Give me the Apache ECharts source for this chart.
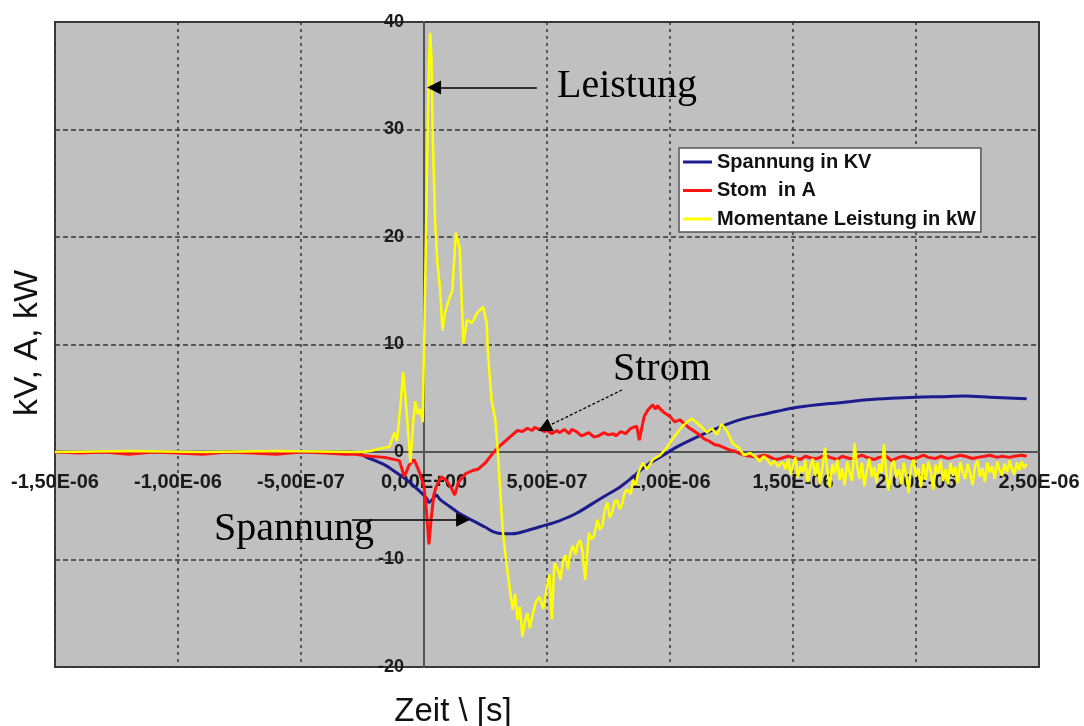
<!DOCTYPE html>
<html>
<head>
<meta charset="utf-8">
<script src="https://cdn.jsdelivr.net/npm/echarts@6/dist/echarts.min.js"></script>
<style>
html,body{margin:0;padding:0;background:#fff;}
#chart{width:1084px;height:726px;}
</style>
</head>
<body>
<div id="chart"></div>
<script>
// ---- data (time in microseconds) ----
var seriesNames = ['Spannung in KV', 'Stom  in A', 'Momentane Leistung in kW'];
var xTickLabels = ['-1,50E-06','-1,00E-06','-5,00E-07','0,00E+00','5,00E-07','1,00E-06','1,50E-06','2,00E-06','2,50E-06'];
var yTickLabels = ['-20','-10','0','10','20','30','40'];

var tSpannung = [-1.5,-0.30,-0.26,-0.24,-0.16,-0.12,-0.07,-0.02,0.01,0.02,0.035,0.05,0.065,0.10,0.15,0.20,0.25,0.28,0.32,0.36,0.42,0.48,0.55,0.62,0.72,0.80,0.85,0.88,0.92,0.98,1.03,1.10,1.20,1.30,1.40,1.50,1.60,1.70,1.80,1.90,2.00,2.10,2.20,2.30,2.40,2.45];
var spannung  = [0,0,-0.1,-0.4,-1.2,-1.8,-2.6,-3.6,-4.3,-4.7,-4.4,-4.0,-4.4,-5.0,-5.8,-6.4,-7.0,-7.4,-7.6,-7.6,-7.3,-6.9,-6.4,-5.7,-4.3,-3.2,-2.3,-1.7,-1.0,-0.2,0.5,1.3,2.3,3.1,3.6,4.1,4.4,4.6,4.85,5.0,5.1,5.15,5.2,5.1,5.0,4.95];

var tStrom = [-1.5,-1.4,-1.3,-1.2,-1.1,-1.0,-0.9,-0.8,-0.7,-0.6,-0.5,-0.4,-0.32,-0.28,-0.22,-0.16,-0.10,-0.08,-0.06,-0.04,-0.02,0.0,0.01,0.02,0.03,0.04,0.05,0.07,0.09,0.11,0.125,0.14,0.17,0.20,0.22,0.25,0.28,0.31,0.33,0.35,0.38,0.40,0.42,0.44,0.45,0.47,0.49,0.50,0.52,0.54,0.55,0.57,0.59,0.60,0.62,0.64,0.65,0.67,0.69,0.71,0.73,0.75,0.77,0.78,0.80,0.82,0.84,0.865,0.875,0.895,0.91,0.93,0.94,0.95,0.96,0.98,1.00,1.02,1.04,1.06,1.08,1.10,1.12,1.14,1.16,1.18,1.20,1.22,1.24,1.26,1.28,1.30,1.33,1.35,1.38,1.40,1.43,1.45,1.48,1.50,1.53,1.55,1.58,1.60,1.63,1.65,1.68,1.70,1.73,1.75,1.78,1.80,1.83,1.85,1.88,1.90,1.93,1.95,1.98,2.00,2.03,2.05,2.08,2.10,2.13,2.15,2.18,2.20,2.23,2.25,2.28,2.30,2.33,2.35,2.38,2.40,2.43,2.45];
var strom  = [0,-0.1,0,-0.2,0,-0.1,-0.2,0,-0.1,-0.2,0,-0.1,-0.2,-0.2,-0.4,-0.5,-0.8,-2.3,-1.2,-0.7,-1.8,-3.2,-5.5,-8.6,-6.0,-4.0,-3.2,-2.3,-2.6,-3.3,-4.0,-2.8,-2.0,-1.7,-1.6,-1.0,-0.1,0.6,1.0,1.4,2.0,1.9,2.2,2.0,2.3,2.1,1.9,2.0,1.7,2.0,1.8,2.1,1.7,2.1,1.9,1.5,1.6,1.8,1.4,1.5,1.8,1.6,1.7,1.5,1.9,1.7,2.2,2.4,1.1,3.3,3.9,4.4,4.0,4.3,4.0,3.6,3.3,2.8,3.0,2.6,2.2,1.9,1.6,1.2,1.0,0.7,0.6,0.4,0.2,0.1,-0.1,-0.3,-0.4,-0.5,-0.3,-0.4,-0.7,-0.6,-0.4,-0.5,-0.7,-0.4,-0.6,-0.6,-0.3,-0.5,-0.7,-0.4,-0.6,-0.6,-0.3,-0.5,-0.7,-0.5,-0.4,-0.8,-0.5,-0.4,-0.6,-0.6,-0.3,-0.5,-0.6,-0.4,-0.6,-0.5,-0.3,-0.4,-0.6,-0.5,-0.4,-0.3,-0.5,-0.4,-0.5,-0.4,-0.3,-0.4];

// Leistung: main transient part
var tLeistungA = [-1.5,-1.2,-0.9,-0.6,-0.25,-0.22,-0.18,-0.14,-0.12,-0.11,-0.095,-0.085,-0.075,-0.065,-0.055,-0.045,-0.035,-0.025,-0.015,-0.005,0.0,0.008,0.015,0.02,0.025,0.03,0.035,0.045,0.055,0.065,0.075,0.085,0.10,0.115,0.13,0.145,0.16,0.175,0.195,0.215,0.24,0.255,0.26,0.275,0.29,0.30,0.32,0.335,0.36,0.37,0.38,0.39,0.40,0.41,0.42,0.43,0.44,0.455,0.47,0.485,0.50,0.51,0.52,0.53,0.545,0.555,0.565,0.575,0.585,0.595,0.605,0.615,0.625,0.635,0.645,0.655,0.67,0.68,0.69,0.705,0.715,0.725,0.735,0.745,0.755,0.765,0.775,0.785,0.795,0.805,0.815,0.825,0.84,0.85,0.86,0.87,0.89,0.905,0.915,0.93,0.945,0.96,0.99,1.01,1.03,1.05,1.07,1.09,1.11,1.13,1.15,1.17,1.19,1.21,1.23,1.255,1.28,1.30,1.325,1.35,1.365,1.38,1.395,1.41,1.425,1.44,1.45];
var leistungA  = [0,0.1,0,0.1,0,0.1,0.3,0.5,1.8,1.0,4.5,7.4,5.0,2.0,-1.0,2.5,4.7,3.5,4.0,2.8,9.5,20,30,36,39,37,30,21.5,17.5,15.3,11.3,12.9,14.1,15,20.4,19,10.1,12.3,12.0,12.9,13.5,12.0,9.2,4.8,3.0,0,-7.3,-10.3,-14.7,-13.2,-15.6,-14.4,-17.2,-15.8,-15.0,-16.4,-15.3,-13.9,-13.5,-14.6,-12.5,-11.4,-15.6,-10.3,-11.0,-11.9,-10.1,-9.6,-10.9,-9.4,-8.7,-9.5,-8.6,-8.2,-9.3,-11.9,-7.5,-8.1,-7.9,-6.3,-7.2,-6.9,-5.4,-4.7,-6.1,-5.6,-4.6,-4.5,-5.3,-4.9,-3.8,-3.5,-3.9,-2.6,-3.1,-2.0,-1.0,-1.6,-1.3,-0.7,-0.5,-0.3,0.5,1.2,1.8,2.4,2.8,3.1,2.7,2.3,1.8,2.2,1.6,2.6,2.0,0.8,0.4,-0.3,-0.1,-0.5,-0.9,-0.4,-0.7,-1.2,-0.8,-1.4,-1.0];
// Leistung: noisy tail
var tLeistungB = [1.46,1.47,1.48,1.49,1.50,1.51,1.52,1.53,1.54,1.55,1.56,1.57,1.58,1.59,1.60,1.61,1.62,1.63,1.64,1.65,1.66,1.67,1.68,1.69,1.70,1.71,1.72,1.73,1.74,1.75,1.76,1.77,1.78,1.79,1.80,1.81,1.82,1.83,1.84,1.85,1.86,1.87,1.88,1.89,1.90,1.91,1.92,1.93,1.94,1.95,1.96,1.97,1.98,1.99,2.00,2.01,2.02,2.03,2.04,2.05,2.06,2.07,2.08,2.09,2.10,2.11,2.12,2.13,2.14,2.15,2.16,2.17,2.18,2.19,2.20,2.21,2.22,2.23,2.24,2.25,2.26,2.27,2.28,2.29,2.30,2.31,2.32,2.33,2.34,2.35,2.36,2.37,2.38,2.39,2.40,2.41,2.42,2.43,2.44,2.45];
var leistungB  = [-1.0,-1.6,-0.7,-2.1,-1.2,-0.5,-2.4,-1.3,-1.9,-0.8,-2.8,-1.5,-0.6,-2.2,-1.0,-3.0,-1.4,0.4,-1.8,-3.3,-1.1,-2.0,-0.7,-2.6,-1.5,-3.1,-0.9,-1.9,-2.7,0.8,-1.2,-2.5,-1.0,-3.2,-1.7,-0.6,-2.3,-1.4,-2.9,-1.1,-1.9,0.7,-2.2,-3.6,-1.3,-0.8,-2.4,-1.6,-3.0,-1.0,-2.1,-3.8,-1.4,-0.7,-2.3,-1.5,-3.3,-1.1,-2.6,-0.9,-1.8,-3.5,-1.2,-2.0,-0.8,-2.7,-1.6,-3.0,-1.0,-2.2,-1.4,-2.9,-0.9,-1.9,-2.5,-1.1,-2.0,-3.1,-1.3,-0.8,-2.3,-1.5,-2.8,-1.0,-1.9,-1.3,-2.5,-0.9,-1.7,-2.2,-1.1,-1.9,-0.8,-1.6,-2.1,-1.0,-1.7,-0.9,-1.5,-1.1];

// annotation arrows: [fromTime, fromValue, toTime, toValue] (end = centre of arrow head)
var arrowLeistung = [0.459, 33.9, 0.041, 33.9];
var arrowSpannung = [-0.293, -6.3, 0.159, -6.3];
var arrowStrom    = [0.805, 5.77, 0.489, 2.24];

function pairs(t, v) { return t.map(function (x, i) { return [x, v[i]]; }); }
function arrow(a, extra) {
  var from = {coord: [a[0], a[1]]};
  if (extra) from.lineStyle = extra;
  return [from, {coord: [a[2], a[3]]}];
}

var xMin = -1.5, xMax = 2.5, xStep = 0.5;
var yMin = -20, yMax = 40, yStep = 10;

// grid box (pixels) and the offsets that put each axis on the other's zero
var gridBox = {left: 55, top: 22, right: 45, bottom: 59};
var plotW = 1084 - gridBox.left - gridBox.right;
var plotH = 726 - gridBox.top - gridBox.bottom;
var xAxisOffset = -plotH * (0 - yMin) / (yMax - yMin);
var yAxisOffset = -plotW * (0 - xMin) / (xMax - xMin);

var chart = echarts.init(document.getElementById('chart'), null, {renderer: 'canvas'});
chart.setOption({
  animation: false,
  backgroundColor: '#ffffff',
  grid: {
    left: gridBox.left, top: gridBox.top, right: gridBox.right, bottom: gridBox.bottom,
    show: true, backgroundColor: '#c0c0c0',
    borderColor: '#3a3a3a', borderWidth: 2
  },
  legend: {
    data: seriesNames,
    orient: 'vertical',
    left: 679, top: 148, z: 20,
    backgroundColor: '#ffffff',
    borderColor: '#555555', borderWidth: 1.5,
    padding: [3, 5, 2, 4],
    itemGap: 6.5,
    icon: 'rect', itemWidth: 29, itemHeight: 3,
    textStyle: {fontFamily: 'Liberation Sans, Arial, sans-serif', fontWeight: 'bold', fontSize: 20, color: '#111', lineHeight: 22}
  },
  xAxis: {
    type: 'value', min: xMin, max: xMax, interval: xStep, z: 0,
    position: 'bottom', offset: xAxisOffset,
    axisLine: {show: true, onZero: false, lineStyle: {color: '#555', width: 2}},
    axisTick: {show: false},
    axisLabel: {
      margin: 20, fontSize: 20, fontWeight: 'bold', color: '#1a1a1a',
      fontFamily: 'Liberation Sans, Arial, sans-serif',
      showMinLabel: true, showMaxLabel: true,
      formatter: function (v) { return xTickLabels[Math.round((v - xMin) / xStep)]; }
    },
    splitLine: {show: true, lineStyle: {color: '#333', width: 1.5, type: [3, 4]}}
  },
  yAxis: {
    type: 'value', min: yMin, max: yMax, interval: yStep, z: 0,
    position: 'left', offset: yAxisOffset,
    axisLine: {show: true, onZero: false, lineStyle: {color: '#555', width: 2}},
    axisTick: {show: false},
    axisLabel: {
      margin: 20, fontSize: 18, fontWeight: 'bold', color: '#1a1a1a',
      fontFamily: 'Liberation Sans, Arial, sans-serif',
      showMinLabel: true, showMaxLabel: true,
      formatter: function (v) { return yTickLabels[Math.round((v - yMin) / yStep)]; }
    },
    splitLine: {show: true, lineStyle: {color: '#333', width: 1.5, type: [5, 3]}}
  },
  series: [
    {
      name: seriesNames[0], type: 'line', data: pairs(tSpannung, spannung), z: 5,
      showSymbol: false, symbol: 'none', smooth: 0.3,
      lineStyle: {color: '#1c1c8c', width: 3}, itemStyle: {color: '#1c1c8c'},
      emphasis: {disabled: true}
    },
    {
      name: seriesNames[1], type: 'line', data: pairs(tStrom, strom), z: 6,
      showSymbol: false, symbol: 'none',
      lineStyle: {color: '#ff1414', width: 3}, itemStyle: {color: '#ff1414'},
      emphasis: {disabled: true}
    },
    {
      name: seriesNames[2], type: 'line', z: 7,
      data: pairs(tLeistungA, leistungA).concat(pairs(tLeistungB, leistungB)),
      showSymbol: false, symbol: 'none',
      lineStyle: {color: '#ffff00', width: 2.5}, itemStyle: {color: '#ffff00'},
      emphasis: {disabled: true}
    },
    {
      name: 'annotations', type: 'line', z: 9, data: [],
      showSymbol: false, symbol: 'none', silent: true,
      markLine: {
        z: 12,
        silent: true, animation: false,
        symbol: ['none', 'triangle'], symbolSize: 14,
        label: {show: false},
        lineStyle: {color: '#000', width: 1.5, type: 'solid'},
        itemStyle: {color: '#000'},
        data: [
          arrow(arrowLeistung),
          arrow(arrowSpannung),
          arrow(arrowStrom, {type: [3, 2], color: '#000', width: 1.3})
        ]
      }
    }
  ],
  graphic: [
    {type: 'text', x: 557, y: 86, z: 100, style: {text: 'Leistung', font: '40px "Liberation Serif", "Times New Roman", serif', fill: '#000', verticalAlign: 'middle'}},
    {type: 'text', x: 613, y: 369, z: 100, style: {text: 'Strom', font: '40px "Liberation Serif", "Times New Roman", serif', fill: '#000', verticalAlign: 'middle'}},
    {type: 'text', x: 214, y: 529, z: 100, style: {text: 'Spannung', font: '40px "Liberation Serif", "Times New Roman", serif', fill: '#000', verticalAlign: 'middle'}},
    {type: 'text', x: 453, y: 712, style: {text: 'Zeit \\ [s]', font: '33px "Liberation Sans", Arial, sans-serif', fill: '#111', align: 'center', verticalAlign: 'middle'}},
    {type: 'text', x: 28, y: 343, rotation: Math.PI / 2, style: {text: 'kV, A, kW', font: '34px "Liberation Sans", Arial, sans-serif', fill: '#111', align: 'center', verticalAlign: 'middle'}}
  ]
});
</script>
</body>
</html>
